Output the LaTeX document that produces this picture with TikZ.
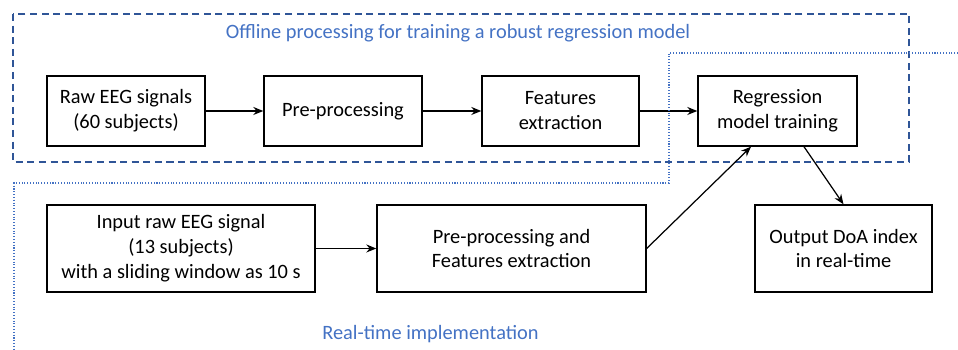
\documentclass[tikz,border=0pt]{standalone}
\usepackage{fontspec}
\setmainfont{Carlito}
\usetikzlibrary{arrows.meta, positioning}
\definecolor{doaBlue}{HTML}{4472C4}
\definecolor{doaDark}{HTML}{2F5597}
\tikzset{
  arrowK/.style={-{Stealth[length=2mm, width=1.6mm]}, black, line width=0.7pt},
  boxW/.style={rectangle, draw=black, line width=0.8pt, fill=white,
               align=center, inner sep=3pt},
  offBox/.style={draw=doaDark, line width=0.8pt, dash pattern=on 4pt off 2.6pt},
  rtBox/.style={draw=doaBlue, line width=0.7pt, dash pattern=on 0.6pt off 1pt},
  blueLbl/.style={text=doaBlue, inner sep=0pt},
}

\begin{document}
\begin{tikzpicture}[x=0.02cm, y=-0.02cm, font=\fontsize{11.6}{14.2}\selectfont]
  \useasboundingbox (0,0) rectangle (958,350);
  % offline part
  \draw[offBox] (13,14) rectangle (909,162);
  \node[blueLbl] (offlbl) at (458,33) {Offline processing for training a robust regression model};
  \node[boxW, minimum width=3.16cm, minimum height=1.4cm] (raw) at (126,111) {Raw EEG signals\\(60 subjects)};
  \node[boxW, minimum width=3.16cm, minimum height=1.4cm] (pre) at (343,111) {Pre-processing};
  \node[boxW, minimum width=3.14cm, minimum height=1.4cm] (feat) at (560.5,111) {Features\\extraction};
  \node[boxW, minimum width=3.18cm, minimum height=1.4cm] (reg) at (777.5,111) {Regression\\model training};
  \draw[arrowK] (raw) -- (pre);
  \draw[arrowK] (pre) -- (feat);
  \draw[arrowK] (feat) -- (reg);
  % real-time part
  \draw[rtBox] (958,53) -- (669,53) -- (669,183) -- (14,183) -- (14,350);
  \node[blueLbl] (rtlbl) at (430.5,334) {Real-time implementation};
  \node[boxW, minimum width=5.36cm, minimum height=1.74cm] (inp) at (181,248.5) {Input raw EEG signal\\(13 subjects)\\with a sliding window as 10 s};
  \node[boxW, minimum width=5.38cm, minimum height=1.74cm] (prefeat) at (511.5,248.5) {Pre-processing and\\Features extraction};
  \node[boxW, minimum width=3.54cm, minimum height=1.74cm] (out) at (843.5,248.5) {Output DoA index\\in real-time};
  \draw[arrowK] (inp) -- (prefeat);
  \draw[arrowK] (prefeat.east) -- ([xshift=-0.53cm]reg.south);
  \draw[arrowK] ([xshift=0.53cm]reg.south) -- (out.north);
\end{tikzpicture}
\end{document}
